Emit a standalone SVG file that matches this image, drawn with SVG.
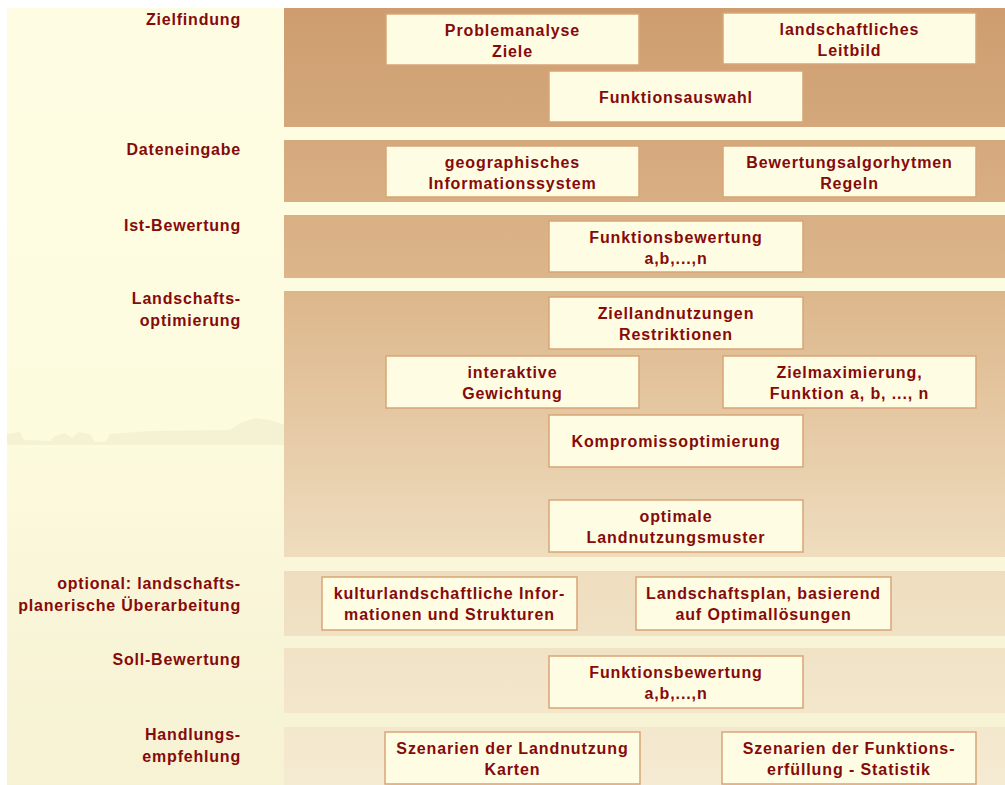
<svg xmlns="http://www.w3.org/2000/svg" width="1005" height="785" viewBox="0 0 1005 785">
<defs>
<linearGradient id="bandGrad" gradientUnits="userSpaceOnUse" x1="0" y1="8" x2="0" y2="785">
<stop offset="0" stop-color="#CD9D6F"/>
<stop offset="0.2" stop-color="#D6AB7F"/>
<stop offset="0.37" stop-color="#DDB78C"/>
<stop offset="0.7" stop-color="#EEDCBD"/>
<stop offset="1" stop-color="#F5EBD2"/>
</linearGradient>
<linearGradient id="leftGrad" gradientUnits="userSpaceOnUse" x1="0" y1="8" x2="0" y2="785">
<stop offset="0" stop-color="#FEFDE3"/>
<stop offset="0.55" stop-color="#FDFBDE"/>
<stop offset="0.75" stop-color="#F9F5D8"/>
<stop offset="1" stop-color="#F7F2D4"/>
</linearGradient>
<style>
.band{fill:url(#bandGrad);}
.box{fill:#FEFCE2;stroke:#D7A577;stroke-width:1.5;}
.t{font-family:"Liberation Sans",Arial,sans-serif;font-weight:bold;font-size:16px;fill:#850A0A;letter-spacing:0.9px;text-anchor:middle;}
.lbl{font-family:"Liberation Sans",Arial,sans-serif;font-weight:bold;font-size:16px;fill:#850A0A;letter-spacing:0.8px;text-anchor:end;}
</style>
</defs>
<rect x="0" y="0" width="1005" height="785" fill="#FFFFFF"/>
<rect x="7" y="8" width="998" height="777" fill="url(#leftGrad)"/>
<g id="background-texture" fill="#EFEACB" opacity="0.55">
<path d="M7,434 L20,432 L24,440 L50,441 L55,436 L65,433 L72,438 L78,432 L90,434 L95,442 L106,441 L110,434 L150,431 L230,430 L240,423 L255,418 L270,420 L284,425 L284,445 L7,445 Z"/>
</g>
<g id="bands">
<rect class="band" x="284" y="8" width="721" height="119"/>
<rect class="band" x="284" y="140" width="721" height="62"/>
<rect class="band" x="284" y="215" width="721" height="63"/>
<rect class="band" x="284" y="291" width="721" height="266"/>
<rect class="band" x="284" y="571" width="721" height="65"/>
<rect class="band" x="284" y="648" width="721" height="65"/>
<rect class="band" x="284" y="727" width="721" height="58"/>
</g>
<g id="labels">
<text class="lbl" x="241" y="25">Zielfindung</text>
<text class="lbl" x="241" y="155">Dateneingabe</text>
<text class="lbl" x="241" y="231">Ist-Bewertung</text>
<text class="lbl" x="241" y="304">Landschafts-</text>
<text class="lbl" x="241" y="326">optimierung</text>
<text class="lbl" x="241" y="589">optional: landschafts-</text>
<text class="lbl" x="241" y="611">planerische Überarbeitung</text>
<text class="lbl" x="241" y="665">Soll-Bewertung</text>
<text class="lbl" x="241" y="740">Handlungs-</text>
<text class="lbl" x="241" y="762">empfehlung</text>
</g>
<g id="connectors"></g>
<g id="n-problemanalyse"><rect class="box" x="386" y="14" width="253" height="51"/><text class="t" x="512.5" y="36">Problemanalyse</text><text class="t" x="512.5" y="57">Ziele</text></g>
<g id="n-leitbild"><rect class="box" x="723" y="13" width="253" height="51"/><text class="t" x="849.5" y="35">landschaftliches</text><text class="t" x="849.5" y="56">Leitbild</text></g>
<g id="n-funktionsauswahl"><rect class="box" x="549" y="71" width="254" height="51"/><text class="t" x="676" y="103">Funktionsauswahl</text></g>
<g id="n-gis"><rect class="box" x="386" y="146" width="253" height="51"/><text class="t" x="512.5" y="168">geographisches</text><text class="t" x="512.5" y="189">Informationssystem</text></g>
<g id="n-algorithmen"><rect class="box" x="723" y="146" width="253" height="51"/><text class="t" x="849.5" y="168">Bewertungsalgorhytmen</text><text class="t" x="849.5" y="189">Regeln</text></g>
<g id="n-funktionsbewertung1"><rect class="box" x="549" y="221" width="254" height="51"/><text class="t" x="676" y="243">Funktionsbewertung</text><text class="t" x="676" y="264">a,b,...,n</text></g>
<g id="n-ziellandnutzungen"><rect class="box" x="549" y="297" width="254" height="52"/><text class="t" x="676" y="319">Ziellandnutzungen</text><text class="t" x="676" y="340">Restriktionen</text></g>
<g id="n-gewichtung"><rect class="box" x="386" y="356" width="253" height="52"/><text class="t" x="512.5" y="378">interaktive</text><text class="t" x="512.5" y="399">Gewichtung</text></g>
<g id="n-zielmaximierung"><rect class="box" x="723" y="356" width="253" height="52"/><text class="t" x="849.5" y="378">Zielmaximierung,</text><text class="t" x="849.5" y="399">Funktion a, b, ..., n</text></g>
<g id="n-kompromiss"><rect class="box" x="549" y="415" width="254" height="52"/><text class="t" x="676" y="447">Kompromissoptimierung</text></g>
<g id="n-optimale"><rect class="box" x="549" y="500" width="254" height="52"/><text class="t" x="676" y="522">optimale</text><text class="t" x="676" y="543">Landnutzungsmuster</text></g>
<g id="n-kulturlandschaft"><rect class="box" x="322" y="577" width="255" height="53"/><text class="t" x="449.5" y="599">kulturlandschaftliche Infor-</text><text class="t" x="449.5" y="620">mationen und Strukturen</text></g>
<g id="n-landschaftsplan"><rect class="box" x="636" y="577" width="255" height="53"/><text class="t" x="763.5" y="599">Landschaftsplan, basierend</text><text class="t" x="763.5" y="620">auf Optimallösungen</text></g>
<g id="n-funktionsbewertung2"><rect class="box" x="549" y="656" width="254" height="52"/><text class="t" x="676" y="678">Funktionsbewertung</text><text class="t" x="676" y="699">a,b,...,n</text></g>
<g id="n-szenarien-land"><rect class="box" x="385" y="732" width="255" height="52"/><text class="t" x="512.5" y="754">Szenarien der Landnutzung</text><text class="t" x="512.5" y="775">Karten</text></g>
<g id="n-szenarien-funktion"><rect class="box" x="722" y="732" width="254" height="52"/><text class="t" x="849" y="754">Szenarien der Funktions-</text><text class="t" x="849" y="775">erfüllung - Statistik</text></g>
</svg>
